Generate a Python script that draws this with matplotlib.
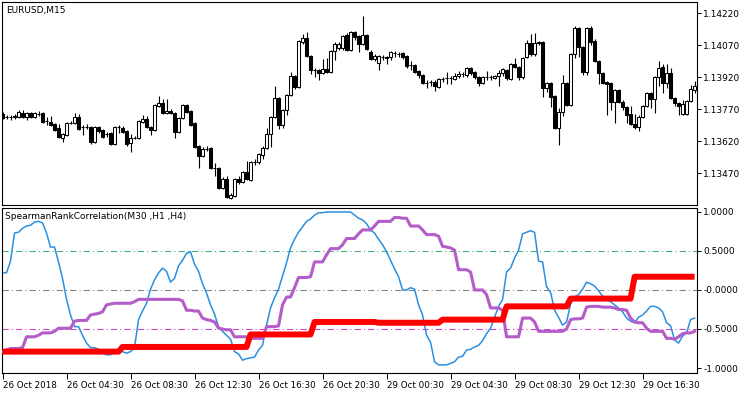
import numpy as np
import matplotlib.pyplot as plt

# EURUSD M15 candles (price)
opens = [
    1.13747, 1.13733, 1.13733, 1.13738, 1.13733, 1.13752, 1.13733, 1.13752, 1.13733, 1.13747,
    1.13752, 1.13714, 1.13709, 1.13700, 1.13681, 1.13634, 1.13648, 1.13705, 1.13705, 1.13733,
    1.13686, 1.13686, 1.13686, 1.13615, 1.13686, 1.13672, 1.13653, 1.13658, 1.13606, 1.13686,
    1.13681, 1.13667, 1.13611, 1.13634, 1.13634, 1.13709, 1.13723, 1.13686, 1.13672, 1.13785,
    1.13799, 1.13752, 1.13761, 1.13752, 1.13662, 1.13728, 1.13789, 1.13761, 1.13705, 1.13597,
    1.13550, 1.13583, 1.13587, 1.13493, 1.13493, 1.13399, 1.13442, 1.13352, 1.13362, 1.13442,
    1.13428, 1.13475, 1.13437, 1.13522, 1.13522, 1.13554, 1.13587, 1.13653, 1.13733, 1.13822,
    1.13695, 1.13766, 1.13836, 1.13925, 1.13874, 1.14085, 1.14104, 1.14019, 1.13954, 1.13954,
    1.13940, 1.13958, 1.13944, 1.14043, 1.14057, 1.14057, 1.14118, 1.14048, 1.14132, 1.14113,
    1.14076, 1.14118, 1.14038, 1.14005, 1.13987, 1.14015, 1.14010, 1.14015, 1.14034, 1.14029,
    1.14034, 1.14019, 1.13977, 1.13977, 1.13949, 1.13930, 1.13893, 1.13897, 1.13897, 1.13874,
    1.13911, 1.13916, 1.13916, 1.13911, 1.13925, 1.13935, 1.13930, 1.13963, 1.13944, 1.13921,
    1.13893, 1.13921, 1.13921, 1.13916, 1.13925, 1.13940, 1.13954, 1.13911, 1.13982, 1.13968,
    1.13921, 1.14015, 1.14080, 1.14029, 1.14085, 1.14085, 1.13869, 1.13893, 1.13832, 1.13681,
    1.13756, 1.13893, 1.13789, 1.14029, 1.14151, 1.14062, 1.13944, 1.14151, 1.14090, 1.13996,
    1.13940, 1.13897, 1.13893, 1.13803, 1.13860, 1.13803, 1.13780, 1.13747, 1.13700, 1.13686,
    1.13733, 1.13785, 1.13846, 1.13817, 1.13921, 1.13968, 1.13893, 1.13940, 1.13822, 1.13799,
    1.13747, 1.13747, 1.13808, 1.13860,
]
closes = [
    1.13728, 1.13733, 1.13733, 1.13733, 1.13756, 1.13733, 1.13752, 1.13733, 1.13752, 1.13747,
    1.13709, 1.13714, 1.13695, 1.13672, 1.13639, 1.13653, 1.13705, 1.13705, 1.13733, 1.13676,
    1.13686, 1.13686, 1.13615, 1.13686, 1.13667, 1.13639, 1.13653, 1.13606, 1.13686, 1.13686,
    1.13662, 1.13606, 1.13634, 1.13634, 1.13714, 1.13723, 1.13686, 1.13672, 1.13789, 1.13799,
    1.13752, 1.13761, 1.13752, 1.13662, 1.13728, 1.13789, 1.13756, 1.13695, 1.13592, 1.13550,
    1.13583, 1.13583, 1.13493, 1.13493, 1.13399, 1.13442, 1.13357, 1.13367, 1.13442, 1.13428,
    1.13475, 1.13442, 1.13522, 1.13522, 1.13559, 1.13587, 1.13653, 1.13733, 1.13822, 1.13695,
    1.13766, 1.13836, 1.13925, 1.13874, 1.14090, 1.14104, 1.14019, 1.13954, 1.13954, 1.13940,
    1.13958, 1.13944, 1.14043, 1.14076, 1.14076, 1.14113, 1.14048, 1.14132, 1.14109, 1.14076,
    1.14118, 1.14052, 1.14005, 1.14019, 1.14019, 1.14015, 1.14015, 1.14038, 1.14034, 1.14029,
    1.14015, 1.13972, 1.13977, 1.13944, 1.13930, 1.13893, 1.13893, 1.13897, 1.13878, 1.13911,
    1.13911, 1.13916, 1.13916, 1.13925, 1.13935, 1.13935, 1.13963, 1.13940, 1.13921, 1.13893,
    1.13921, 1.13921, 1.13921, 1.13925, 1.13940, 1.13958, 1.13916, 1.13982, 1.13968, 1.13921,
    1.14010, 1.14080, 1.14029, 1.14080, 1.14080, 1.13869, 1.13893, 1.13827, 1.13681, 1.13756,
    1.13893, 1.13789, 1.14029, 1.14151, 1.14062, 1.13944, 1.14151, 1.14085, 1.13996, 1.13940,
    1.13893, 1.13888, 1.13803, 1.13860, 1.13803, 1.13780, 1.13742, 1.13700, 1.13686, 1.13733,
    1.13785, 1.13846, 1.13817, 1.13921, 1.13963, 1.13893, 1.13940, 1.13822, 1.13799, 1.13785,
    1.13794, 1.13808, 1.13864, 1.13878,
]
highs = [
    1.13756, 1.13742, 1.13742, 1.13747, 1.13766, 1.13766, 1.13756, 1.13756, 1.13756, 1.13761,
    1.13756, 1.13733, 1.13738, 1.13705, 1.13700, 1.13658, 1.13709, 1.13714, 1.13752, 1.13747,
    1.13695, 1.13700, 1.13691, 1.13691, 1.13691, 1.13676, 1.13662, 1.13662, 1.13691, 1.13695,
    1.13691, 1.13672, 1.13653, 1.13644, 1.13719, 1.13742, 1.13738, 1.13691, 1.13794, 1.13832,
    1.13817, 1.13817, 1.13770, 1.13756, 1.13733, 1.13794, 1.13794, 1.13766, 1.13709, 1.13601,
    1.13592, 1.13597, 1.13592, 1.13517, 1.13498, 1.13451, 1.13456, 1.13376, 1.13446, 1.13456,
    1.13479, 1.13526, 1.13526, 1.13536, 1.13564, 1.13597, 1.13681, 1.13738, 1.13878, 1.13827,
    1.13770, 1.13841, 1.13944, 1.13930, 1.14095, 1.14123, 1.14132, 1.14024, 1.13963, 1.13958,
    1.14005, 1.14010, 1.14048, 1.14085, 1.14085, 1.14118, 1.14127, 1.14137, 1.14137, 1.14118,
    1.14207, 1.14123, 1.14048, 1.14029, 1.14024, 1.14024, 1.14019, 1.14043, 1.14043, 1.14038,
    1.14038, 1.14024, 1.13996, 1.13982, 1.13954, 1.13935, 1.13907, 1.13907, 1.13907, 1.13916,
    1.13921, 1.13944, 1.13925, 1.13940, 1.13949, 1.13944, 1.13968, 1.13968, 1.13949, 1.13925,
    1.13925, 1.13949, 1.13930, 1.13930, 1.13954, 1.13963, 1.13958, 1.13987, 1.14010, 1.13972,
    1.14015, 1.14095, 1.14123, 1.14127, 1.14090, 1.14090, 1.13897, 1.13897, 1.13836, 1.13775,
    1.13930, 1.13897, 1.14034, 1.14160, 1.14156, 1.14066, 1.14156, 1.14160, 1.14099, 1.14001,
    1.13944, 1.13902, 1.13897, 1.13864, 1.13864, 1.13813, 1.13785, 1.13785, 1.13747, 1.13742,
    1.13789, 1.13850, 1.13850, 1.13925, 1.13996, 1.13982, 1.13982, 1.13963, 1.13827, 1.13803,
    1.13813, 1.13813, 1.13883, 1.13902,
]
lows = [
    1.13723, 1.13723, 1.13719, 1.13723, 1.13728, 1.13728, 1.13719, 1.13728, 1.13728, 1.13738,
    1.13705, 1.13695, 1.13691, 1.13667, 1.13634, 1.13615, 1.13644, 1.13700, 1.13700, 1.13672,
    1.13648, 1.13676, 1.13606, 1.13611, 1.13658, 1.13634, 1.13639, 1.13601, 1.13601, 1.13658,
    1.13658, 1.13597, 1.13568, 1.13630, 1.13630, 1.13705, 1.13681, 1.13648, 1.13667, 1.13780,
    1.13747, 1.13747, 1.13747, 1.13634, 1.13658, 1.13723, 1.13752, 1.13691, 1.13587, 1.13493,
    1.13545, 1.13573, 1.13489, 1.13456, 1.13395, 1.13395, 1.13352, 1.13348, 1.13357, 1.13418,
    1.13423, 1.13437, 1.13432, 1.13507, 1.13512, 1.13536, 1.13583, 1.13592, 1.13728, 1.13676,
    1.13681, 1.13742, 1.13832, 1.13864, 1.13869, 1.14076, 1.14015, 1.13935, 1.13921, 1.13907,
    1.13935, 1.13940, 1.13940, 1.14001, 1.14048, 1.14048, 1.14043, 1.14043, 1.14095, 1.14038,
    1.14071, 1.14048, 1.14001, 1.13996, 1.13954, 1.14001, 1.13982, 1.14001, 1.14015, 1.14015,
    1.14005, 1.13963, 1.13954, 1.13940, 1.13916, 1.13888, 1.13869, 1.13878, 1.13855, 1.13869,
    1.13897, 1.13888, 1.13888, 1.13907, 1.13916, 1.13921, 1.13921, 1.13930, 1.13911, 1.13878,
    1.13888, 1.13907, 1.13907, 1.13911, 1.13878, 1.13925, 1.13907, 1.13907, 1.13963, 1.13907,
    1.13911, 1.14010, 1.14019, 1.14019, 1.14071, 1.13827, 1.13850, 1.13780, 1.13676, 1.13601,
    1.13738, 1.13785, 1.13785, 1.14010, 1.14015, 1.13930, 1.13930, 1.14071, 1.13991, 1.13888,
    1.13888, 1.13742, 1.13766, 1.13705, 1.13799, 1.13766, 1.13705, 1.13695, 1.13676, 1.13667,
    1.13728, 1.13780, 1.13775, 1.13752, 1.13878, 1.13846, 1.13869, 1.13817, 1.13785, 1.13742,
    1.13742, 1.13742, 1.13803, 1.13846,
]

# SpearmanRankCorrelation buffers
src_m30 = [
    0.22, 0.22, 0.37, 0.73, 0.74, 0.79, 0.82, 0.83, 0.87, 0.88,
    0.86, 0.73, 0.55, 0.55, 0.36, 0.15, -0.12, -0.32, -0.47, -0.47,
    -0.58, -0.68, -0.74, -0.74, -0.76, -0.81, -0.83, -0.83, -0.79, -0.79,
    -0.79, -0.81, -0.79, -0.74, -0.38, -0.27, -0.17, 0.01, 0.13, 0.22,
    0.28, 0.24, 0.10, 0.15, 0.31, 0.38, 0.47, 0.49, 0.33, 0.24,
    0.08, -0.04, -0.19, -0.31, -0.47, -0.53, -0.58, -0.63, -0.79, -0.82,
    -0.90, -0.88, -0.87, -0.86, -0.77, -0.71, -0.45, -0.23, -0.10, 0.01,
    0.18, 0.35, 0.54, 0.65, 0.74, 0.81, 0.88, 0.91, 0.96, 0.99,
    0.99, 1.00, 1.00, 1.00, 1.00, 1.00, 1.00, 1.00, 0.96, 0.92,
    0.90, 0.85, 0.77, 0.73, 0.65, 0.58, 0.49, 0.38, 0.27, 0.17,
    0.00, 0.00, 0.03, 0.01, -0.19, -0.32, -0.58, -0.67, -0.92, -0.96,
    -0.96, -0.96, -0.94, -0.92, -0.86, -0.85, -0.77, -0.76, -0.73, -0.71,
    -0.65, -0.56, -0.49, -0.35, -0.21, -0.12, 0.23, 0.28, 0.41, 0.51,
    0.72, 0.74, 0.76, 0.74, 0.37, 0.36, 0.04, -0.03, -0.26, -0.35,
    -0.45, -0.41, -0.18, -0.09, -0.06, 0.01, 0.10, 0.08, 0.05, -0.01,
    -0.08, -0.12, -0.15, -0.19, -0.23, -0.28, -0.36, -0.40, -0.42, -0.35,
    -0.32, -0.27, -0.21, -0.21, -0.23, -0.28, -0.42, -0.46, -0.64, -0.68,
    -0.59, -0.55, -0.38, -0.36,
]
src_h1 = [
    -0.79, -0.77, -0.75, -0.75, -0.75, -0.74, -0.60, -0.60, -0.60, -0.58,
    -0.55, -0.55, -0.55, -0.53, -0.49, -0.49, -0.49, -0.49, -0.40, -0.39,
    -0.39, -0.39, -0.32, -0.31, -0.30, -0.28, -0.19, -0.18, -0.17, -0.17,
    -0.17, -0.17, -0.17, -0.15, -0.12, -0.12, -0.12, -0.12, -0.12, -0.12,
    -0.12, -0.12, -0.12, -0.12, -0.12, -0.14, -0.26, -0.26, -0.27, -0.27,
    -0.36, -0.38, -0.39, -0.41, -0.49, -0.50, -0.51, -0.51, -0.60, -0.60,
    -0.60, -0.60, -0.62, -0.62, -0.62, -0.62, -0.47, -0.47, -0.47, -0.46,
    -0.19, -0.09, -0.09, 0.03, 0.16, 0.16, 0.16, 0.17, 0.36, 0.36,
    0.36, 0.45, 0.53, 0.53, 0.53, 0.58, 0.66, 0.66, 0.66, 0.72,
    0.77, 0.77, 0.77, 0.82, 0.88, 0.88, 0.88, 0.88, 0.93, 0.93,
    0.92, 0.92, 0.82, 0.82, 0.82, 0.77, 0.71, 0.71, 0.71, 0.69,
    0.56, 0.55, 0.54, 0.51, 0.26, 0.26, 0.26, 0.23, 0.00, 0.00,
    0.00, -0.06, -0.23, -0.23, -0.23, -0.26, -0.60, -0.60, -0.60, -0.60,
    -0.36, -0.36, -0.36, -0.41, -0.53, -0.53, -0.53, -0.53, -0.53, -0.53,
    -0.53, -0.50, -0.38, -0.37, -0.37, -0.36, -0.22, -0.21, -0.21, -0.21,
    -0.22, -0.22, -0.22, -0.23, -0.25, -0.25, -0.26, -0.36, -0.41, -0.42,
    -0.42, -0.49, -0.53, -0.53, -0.53, -0.53, -0.62, -0.62, -0.63, -0.60,
    -0.56, -0.55, -0.55, -0.53,
]
src_h4 = [
    -0.79, -0.79, -0.79, -0.79, -0.79, -0.79, -0.79, -0.79, -0.79, -0.79,
    -0.79, -0.79, -0.79, -0.79, -0.79, -0.79, -0.79, -0.79, -0.79, -0.79,
    -0.79, -0.79, -0.79, -0.79, -0.79, -0.79, -0.79, -0.79, -0.79, -0.79,
    -0.73, -0.73, -0.73, -0.73, -0.73, -0.73, -0.73, -0.73, -0.73, -0.73,
    -0.73, -0.73, -0.73, -0.73, -0.73, -0.73, -0.73, -0.73, -0.73, -0.73,
    -0.73, -0.73, -0.73, -0.73, -0.73, -0.73, -0.73, -0.73, -0.73, -0.73,
    -0.73, -0.73, -0.57, -0.57, -0.57, -0.57, -0.57, -0.57, -0.57, -0.57,
    -0.57, -0.57, -0.57, -0.57, -0.57, -0.57, -0.57, -0.57, -0.41, -0.41,
    -0.41, -0.41, -0.41, -0.41, -0.41, -0.41, -0.41, -0.41, -0.41, -0.41,
    -0.41, -0.41, -0.41, -0.41, -0.42, -0.42, -0.42, -0.42, -0.42, -0.42,
    -0.42, -0.42, -0.42, -0.42, -0.42, -0.42, -0.42, -0.42, -0.42, -0.42,
    -0.38, -0.38, -0.38, -0.38, -0.38, -0.38, -0.38, -0.38, -0.38, -0.38,
    -0.38, -0.38, -0.38, -0.38, -0.38, -0.38, -0.21, -0.21, -0.21, -0.21,
    -0.21, -0.21, -0.21, -0.21, -0.21, -0.21, -0.21, -0.21, -0.21, -0.21,
    -0.21, -0.21, -0.11, -0.11, -0.11, -0.11, -0.11, -0.11, -0.11, -0.11,
    -0.11, -0.11, -0.11, -0.11, -0.11, -0.11, -0.11, -0.11, 0.17, 0.17,
    0.17, 0.17, 0.17, 0.17, 0.17, 0.17, 0.17, 0.17, 0.17, 0.17,
    0.17, 0.17, 0.17, 0.17,
]

price_ticks = [1.13470, 1.13620, 1.13770, 1.13920, 1.14070, 1.14220]
ind_ticks = [1.0, 0.5, 0.0, -0.5, -1.0]
ind_tick_labels = ['1.0000', '0.5000', '-0.0000', '-0.5000', '-1.0000']
levels = [0.5, 0.0, -0.5]
level_colors = ['#3cb371', '#808080', '#d040d0']
time_labels = ['26 Oct 2018', '26 Oct 04:30', '26 Oct 08:30', '26 Oct 12:30',
               '26 Oct 16:30', '26 Oct 20:30', '29 Oct 00:30', '29 Oct 04:30',
               '29 Oct 08:30', '29 Oct 12:30', '29 Oct 16:30']
time_label_bars = [0, 16, 32, 48, 64, 80, 96, 112, 128, 144, 160]

opens = np.array(opens)
closes = np.array(closes)
highs = np.array(highs)
lows = np.array(lows)
x = np.arange(len(closes))

W, H = 750, 394
fig = plt.figure(figsize=(W / 100, H / 100), dpi=100)
ax1 = fig.add_axes([2 / W, 1 - 205 / H, 695 / W, 203 / H])
ax2 = fig.add_axes([2 / W, 1 - 373 / H, 695 / W, 165 / H])

# candles
ax1.vlines(x, lows, highs, color='black', lw=0.8, zorder=2)
body_colors = np.where(closes >= opens, 'white', 'black')
ax1.bar(x, closes - opens, bottom=opens, width=0.55, color=body_colors,
        edgecolor='black', linewidth=0.75, zorder=3)
ax1.set_xlim(-0.125, 173.6)
ax1.set_ylim(1.13320, 1.14272)
ax1.set_xticks([])
ax1.yaxis.tick_right()
ax1.set_yticks(price_ticks)
ax1.set_yticklabels(['%.5f' % p for p in price_ticks])

# indicator
for lv, lc in zip(levels, level_colors):
    ax2.axhline(lv, color=lc, lw=0.75, dashes=(6, 3, 1, 3), zorder=1)
ax2.plot(x, src_m30, color='#2b8fe0', lw=1.1, zorder=2)
ax2.plot(x, src_h1, color='#b45cc8', lw=2.2, zorder=3)
ax2.plot(x, src_h4, color='#ff0000', lw=4.3, zorder=4, solid_capstyle='butt')
ax2.set_xlim(-0.125, 173.6)
ax2.set_ylim(-1.064, 1.051)
ax2.yaxis.tick_right()
ax2.set_yticks(ind_ticks)
ax2.set_yticklabels(ind_tick_labels)
ax2.set_xticks(time_label_bars)
ax2.set_xticklabels(time_labels)
for lab in ax2.get_xticklabels():
    lab.set_ha('left')

for ax in (ax1, ax2):
    for sp in ax.spines.values():
        sp.set_linewidth(0.8)
        sp.set_color('black')
    ax.tick_params(axis='y', direction='out', length=3, width=0.7, pad=1.5,
                   labelsize=6.5, colors='black')
ax2.tick_params(axis='x', direction='out', length=4, width=0.7, pad=1.5,
                labelsize=6.3)

fig.text(6 / W, 1 - 10 / H, 'EURUSD,M15', fontsize=6.5, va='center', ha='left')
fig.text(5 / W, 1 - 216.5 / H, 'SpearmanRankCorrelation(M30 ,H1 ,H4)',
         fontsize=6.5, va='center', ha='left')

fig.savefig('out.png', dpi=100)
